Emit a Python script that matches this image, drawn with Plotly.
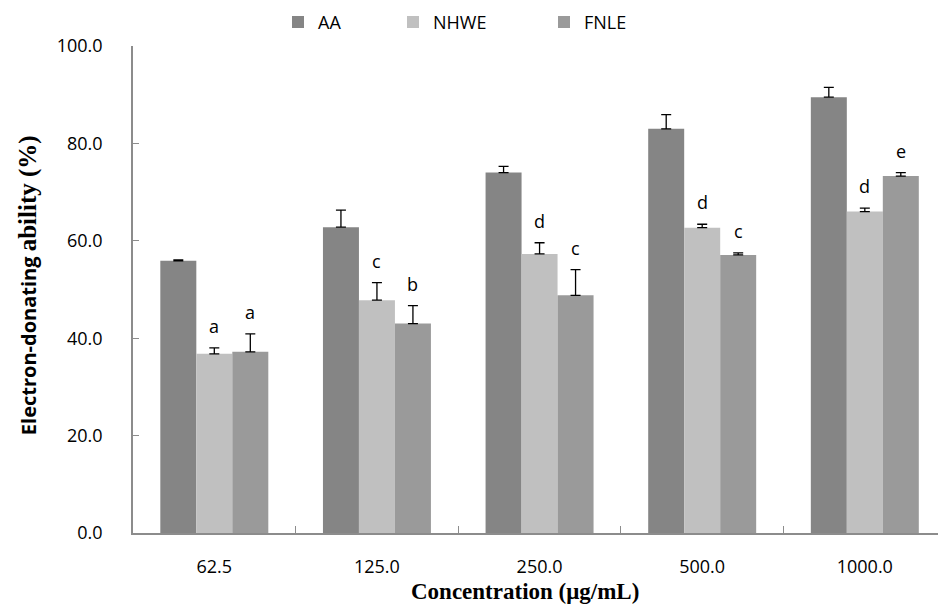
import plotly.graph_objects as go

categories = ["62.5", "125.0", "250.0", "500.0", "1000.0"]
aa_values = [55.9, 62.8, 74.0, 83.0, 89.5]
aa_err = [0.2, 3.5, 1.3, 2.9, 2.0]
nhwe_values = [36.8, 47.8, 57.3, 62.7, 66.0]
nhwe_err = [1.2, 3.6, 2.3, 0.7, 0.7]
fnle_values = [37.2, 43.0, 48.8, 57.1, 73.3]
fnle_err = [3.7, 3.7, 5.3, 0.4, 0.7]
nhwe_letters = ["a", "c", "d", "d", "d"]
fnle_letters = ["a", "b", "c", "c", "e"]

colors = {"AA": "#858585", "NHWE": "#c0c0c0", "FNLE": "#9a9a9a"}
BARGAP = 0.336
SANS = "Open Sans"

fig = go.Figure()
series = [("AA", aa_values, aa_err, "legend"),
          ("NHWE", nhwe_values, nhwe_err, "legend2"),
          ("FNLE", fnle_values, fnle_err, "legend3")]
for name, vals, err, lg in series:
    fig.add_trace(go.Bar(
        x=categories, y=vals, name=name, legend=lg,
        marker=dict(color=colors[name], line=dict(width=0)),
        error_y=dict(type="data", array=err, arrayminus=[0] * len(err),
                     symmetric=False, color="black", thickness=1.3, width=5),
    ))

bw = (1 - BARGAP) / 3
for k, (vals, err, letters) in enumerate([(nhwe_values, nhwe_err, nhwe_letters),
                                          (fnle_values, fnle_err, fnle_letters)]):
    for i, lt in enumerate(letters):
        fig.add_annotation(x=i + k * bw, y=vals[i] + err[i], xref="x", yref="y",
                           text=lt, showarrow=False, yshift=22, yanchor="middle",
                           font=dict(family=SANS, size=18, color="black"))

fig.add_annotation(xref="paper", yref="paper", x=0.487, y=-0.121,
                   text="<b>Concentration (μg/mL)</b>", showarrow=False,
                   xanchor="center", yanchor="middle",
                   font=dict(family="Liberation Serif", size=23, color="black"))
fig.add_annotation(xref="paper", yref="paper", x=-0.131, y=0.508,
                   text=("<b>Electron-donating </b>"
                         "<span style='font-family:Liberation Serif;font-size:25px;font-weight:bold'>"
                         "ability (%)</span>"),
                   showarrow=False, textangle=-90, xanchor="center", yanchor="middle",
                   font=dict(family=SANS, size=20, color="black"))

leg = dict(orientation="h", yanchor="middle", xanchor="left", y=0.963,
           xref="container", yref="container",
           font=dict(family=SANS, size=18, color="black"),
           bgcolor="rgba(0,0,0,0)", itemwidth=30)
fig.update_layout(
    width=938, height=604,
    margin=dict(l=133, r=0, t=46, b=71, autoexpand=False),
    paper_bgcolor="white", plot_bgcolor="white",
    barmode="group", bargap=BARGAP, bargroupgap=0,
    showlegend=True,
    legend=dict(leg, x=278 / 938),
    legend2=dict(leg, x=393 / 938),
    legend3=dict(leg, x=544 / 938),
    xaxis=dict(type="category", range=[-0.5, 4.45], showgrid=False, automargin=False,
               showline=True, linecolor="#8c8c8c", linewidth=1.5,
               ticks="inside", tickson="boundaries", ticklen=7,
               tickcolor="#8c8c8c", tickwidth=1.2, ticklabelstandoff=17,
               tickfont=dict(family=SANS, size=18, color="black")),
    yaxis=dict(range=[0, 100], dtick=20, tickformat=".1f", showgrid=False, automargin=False,
               zeroline=False, showline=True, linecolor="#8c8c8c", linewidth=1.5,
               ticks="inside", ticklen=6, tickcolor="#8c8c8c", tickwidth=1.2,
               ticklabelstandoff=25,
               tickfont=dict(family=SANS, size=18, color="black")),
)

fig.write_html("out.html", config={"displayModeBar": False},
               post_script="document.body.style.margin='0px';document.body.style.overflow='hidden';")
